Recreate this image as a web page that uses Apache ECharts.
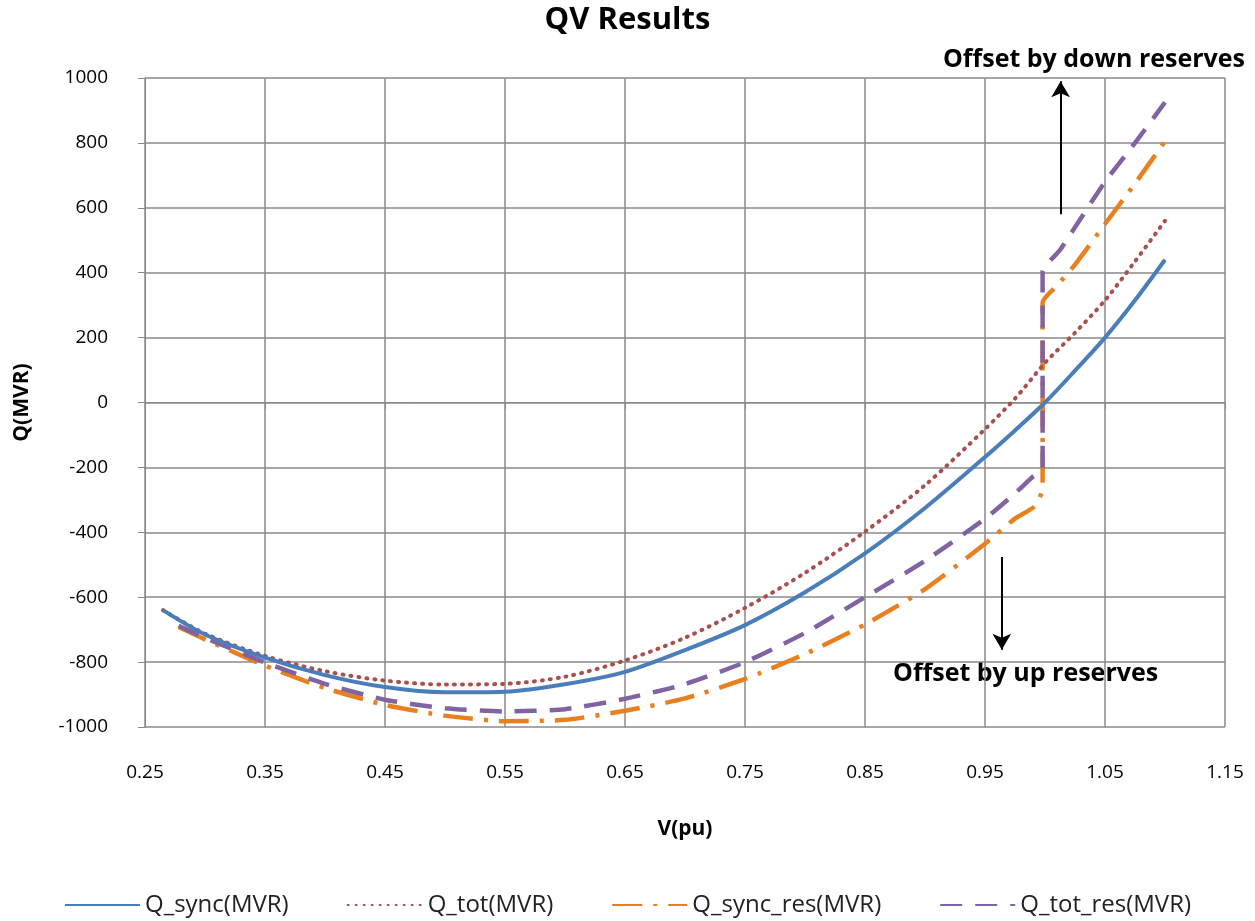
<!DOCTYPE html>
<html>
<head>
<meta charset="utf-8">
<script src="https://cdn.jsdelivr.net/npm/echarts@6/dist/echarts.min.js"></script>
<style>
html,body{margin:0;padding:0;background:#fff;}
#chart{width:1255px;height:921px;}
</style>
</head>
<body>
<div id="chart"></div>
<script>
// ---- data ----
const vSync = [0.265,0.30,0.35,0.40,0.45,0.50,0.55,0.60,0.65,0.70,0.75,0.80,0.85,0.90,0.95,0.975,1.0,1.025,1.05,1.075,1.10];
const qSync = [-640,-715,-786,-840,-877,-893,-891,-868,-830,-763,-686,-585,-465,-325,-168,-86,0,98,200,315,440];
const qTot  = [-640,-712,-781,-828,-857,-869,-867,-845,-795,-725,-633,-525,-398,-255,-82,12,122,215,315,435,560];

const vSyncRes = [0.278,0.30,0.35,0.40,0.45,0.50,0.55,0.60,0.65,0.70,0.75,0.80,0.85,0.90,0.95,0.975,0.992,0.998,0.998,1.01,1.025,1.05,1.075,1.10];
const qSyncRes = [-692,-730,-811,-880,-932,-965,-982,-978,-950,-912,-852,-775,-684,-575,-435,-358,-318,-262,308,360,425,550,675,805];

const vTotRes = [0.278,0.30,0.35,0.40,0.45,0.50,0.55,0.60,0.65,0.70,0.75,0.80,0.85,0.90,0.95,0.975,0.99,0.998,0.998,1.0125,1.025,1.05,1.075,1.10];
const qTotRes = [-688,-725,-801,-867,-916,-942,-952,-945,-913,-868,-800,-710,-600,-488,-358,-280,-228,-207,402,470,540,680,800,925];

const seriesNames = ['Q_sync(MVR)','Q_tot(MVR)','Q_sync_res(MVR)','Q_tot_res(MVR)'];
const xTicks = [0.25,0.35,0.45,0.55,0.65,0.75,0.85,0.95,1.05,1.15];
const yTicks = [-1000,-800,-600,-400,-200,0,200,400,600,800,1000];

const zip = (xs, ys) => xs.map((x, i) => [x, ys[i]]);

const FONT = '"Open Sans", "Liberation Sans", sans-serif';
const chart = echarts.init(document.getElementById('chart'));

chart.setOption({
  backgroundColor: '#fff',
  animation: false,
  textStyle: { fontFamily: FONT, color: '#000' },
  title: {
    text: 'QV Results',
    left: 'center',
    top: 0,
    textStyle: { fontFamily: FONT, fontSize: 31, fontWeight: 'bold', color: '#000' }
  },
  grid: { left: 145, right: 30, top: 78, bottom: 194, containLabel: false },
  legend: {
    top: 888,
    left: 'center',
    itemWidth: 75,
    itemHeight: 14,
    itemGap: 58,
    itemStyle: { opacity: 0 },
    textStyle: { fontFamily: FONT, fontSize: 24, color: '#222' },
    data: seriesNames
  },
  xAxis: {
    type: 'value',
    min: 0.25,
    max: 1.15,
    interval: 0.1,
    name: 'V(pu)',
    nameLocation: 'middle',
    nameGap: 92,
    nameTextStyle: { fontFamily: FONT, fontSize: 21, fontWeight: 'bold', color: '#000' },
    axisLine: { show: true, lineStyle: { color: '#888', width: 1 } },
    axisTick: { show: true, length: 7, lineStyle: { color: '#888' } },
    axisLabel: { margin: 36, fontSize: 19, color: '#000', formatter: v => v.toFixed(2) },
    splitLine: { show: true, lineStyle: { color: '#8a8a8a', width: 1.5 } }
  },
  yAxis: {
    type: 'value',
    min: -1000,
    max: 1000,
    interval: 200,
    name: 'Q(MVR)',
    nameLocation: 'middle',
    nameGap: 112,
    nameRotate: 90,
    nameTextStyle: { fontFamily: FONT, fontSize: 21, fontWeight: 'bold', color: '#000' },
    axisLine: { show: true, lineStyle: { color: '#888', width: 1 } },
    axisTick: { show: true, length: 7, lineStyle: { color: '#888' } },
    axisLabel: { margin: 37, fontSize: 19, color: '#000', formatter: v => String(v) },
    splitLine: { show: true, lineStyle: { color: '#8a8a8a', width: 1.5 } }
  },
  series: [
    {
      name: seriesNames[0], type: 'line', symbol: 'none', smooth: 0.3, z: 4,
      data: zip(vSync, qSync),
      color: '#4A7EBB',
      lineStyle: { color: '#4A7EBB', width: 4, type: 'solid' },
      markLine: {
        silent: true,
        symbol: ['none', 'arrow'],
        symbolSize: [14, 16],
        label: { show: false },
        lineStyle: { color: '#000', width: 2, type: 'solid' },
        data: [
          [{ coord: [1.013, 580] }, { coord: [1.013, 990] }],
          [{ coord: [0.964, -476] }, { coord: [0.964, -762] }]
        ]
      }
    },
    {
      name: seriesNames[1], type: 'line', symbol: 'none', smooth: 0.3, z: 3,
      data: zip(vSync, qTot),
      color: '#A8504D',
      lineStyle: { color: '#A8504D', width: 4, type: [1, 7], cap: 'round' }
    },
    {
      name: seriesNames[2], type: 'line', symbol: 'none', smooth: 0.2, z: 2,
      data: zip(vSyncRes, qSyncRes),
      color: '#E8801F',
      lineStyle: { color: '#E8801F', width: 4.5, type: [30, 11, 4, 11], cap: 'butt' }
    },
    {
      name: seriesNames[3], type: 'line', symbol: 'none', smooth: 0.2, z: 2,
      data: zip(vTotRes, qTotRes),
      color: '#8064A2',
      lineStyle: { color: '#8064A2', width: 4.5, type: [22, 13], cap: 'butt' }
    }
  ],
  graphic: [
    {
      type: 'text', right: 10, top: 47,
      style: { text: 'Offset by down reserves', font: 'bold 25px ' + FONT, fill: '#000' }
    },
    {
      type: 'text', left: 893, top: 661,
      style: { text: 'Offset by up reserves', font: 'bold 25px ' + FONT, fill: '#000' }
    }
  ]
});
</script>
</body>
</html>
